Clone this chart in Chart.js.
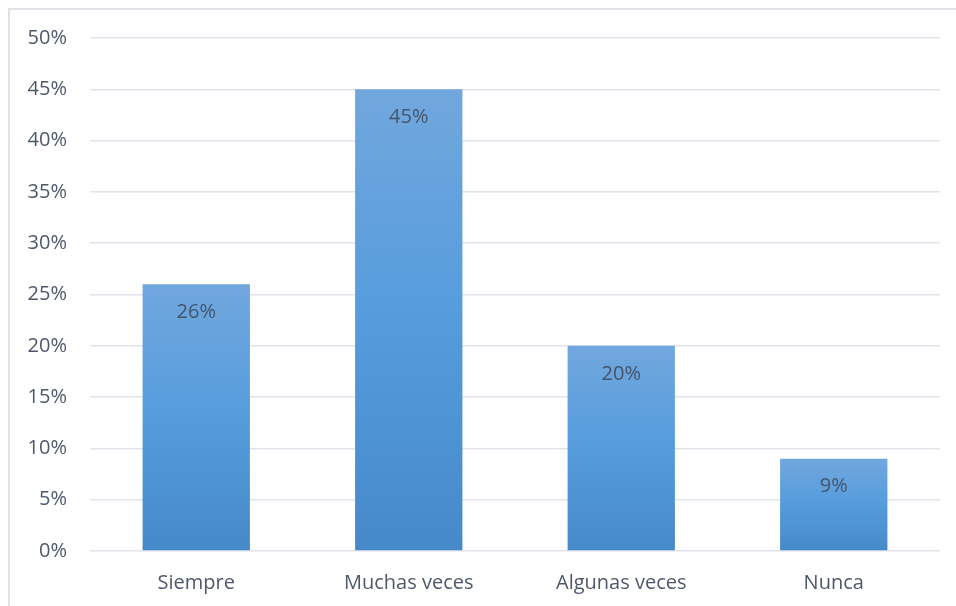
<!DOCTYPE html>
<html>
<head>
<meta charset="utf-8">
<script src="https://cdn.jsdelivr.net/npm/chart.js@4/dist/chart.umd.min.js"></script>
<style>
  html, body { margin: 0; padding: 0; background: #fff; }
  #wrap { width: 956px; height: 606px; position: relative; }
</style>
</head>
<body>
<div id="wrap"><canvas id="myChart" width="956" height="606"></canvas></div>
<script>
const categories = ["Siempre", "Muchas veces", "Algunas veces", "Nunca"];
const values = [26, 45, 20, 9];
const yTicks = [0, 5, 10, 15, 20, 25, 30, 35, 40, 45, 50];

const textColor = "#4d596b";
const fontFamily = "'Open Sans', 'Noto Sans', sans-serif";
const fontSize = 20;

// vertical blue gradient for each bar, from its top down to zero
function barGradient(context) {
  const chart = context.chart;
  const y = chart.scales.y;
  if (!y) return "#5b9bd5";
  const top = y.getPixelForValue(context.raw);
  const bottom = y.getPixelForValue(0);
  if (!isFinite(top) || !isFinite(bottom) || top === bottom) return "#5b9bd5";
  const g = chart.ctx.createLinearGradient(0, top, 0, bottom);
  g.addColorStop(0, "#71a7dd");
  g.addColorStop(0.5, "#559cdd");
  g.addColorStop(1, "#4689c9");
  return g;
}

// value labels inside the top of each bar
const valueLabels = {
  id: "valueLabels",
  afterDatasetsDraw(chart) {
    const ctx = chart.ctx;
    const meta = chart.getDatasetMeta(0);
    ctx.save();
    ctx.font = fontSize + "px " + fontFamily;
    ctx.fillStyle = "#44546a";
    ctx.textAlign = "center";
    ctx.textBaseline = "middle";
    meta.data.forEach(function (bar, i) {
      ctx.fillText(values[i] + "%", bar.x, bar.y + 28);
    });
    ctx.restore();
  }
};

// thin frame along the top and left edges
const frame = {
  id: "frame",
  beforeDraw(chart) {
    const ctx = chart.ctx;
    ctx.save();
    ctx.strokeStyle = "#dfe3e8";
    ctx.lineWidth = 2;
    ctx.beginPath();
    ctx.moveTo(9, 606);
    ctx.lineTo(9, 9);
    ctx.lineTo(956, 9);
    ctx.stroke();
    ctx.restore();
  }
};

var ctx = document.getElementById("myChart");
const data = {
  labels: categories,
  datasets: [
    {
      data: values,
      backgroundColor: barGradient,
      borderWidth: 0,
      categoryPercentage: 1,
      barPercentage: 0.505,
    },
  ],
};
const config = {
  type: "bar",
  data: data,
  plugins: [frame, valueLabels],
  options: {
    responsive: false,
    animation: false,
    layout: { padding: { top: 38, right: 16, bottom: 0, left: 0 } },
    plugins: { legend: { display: false }, tooltip: { enabled: false } },
    scales: {
      x: {
        grid: { display: false, drawTicks: false },
        border: { display: false },
        ticks: { color: textColor, font: { size: fontSize, family: fontFamily }, padding: 20 },
        afterFit(scale) { scale.height = 55; },
      },
      y: {
        min: 0,
        max: 50,
        afterBuildTicks(scale) { scale.ticks = yTicks.map(v => ({ value: v })); },
        grid: { color: "#e0e4ea", lineWidth: 1.5, drawTicks: false },
        border: { display: false },
        ticks: {
          color: textColor,
          font: { size: fontSize, family: fontFamily },
          padding: 23,
          callback: v => v + "%",
        },
        afterFit(scale) { scale.width = 90; },
      },
    },
  },
};

var myChart = new Chart(ctx, config);
</script>
</body>
</html>
